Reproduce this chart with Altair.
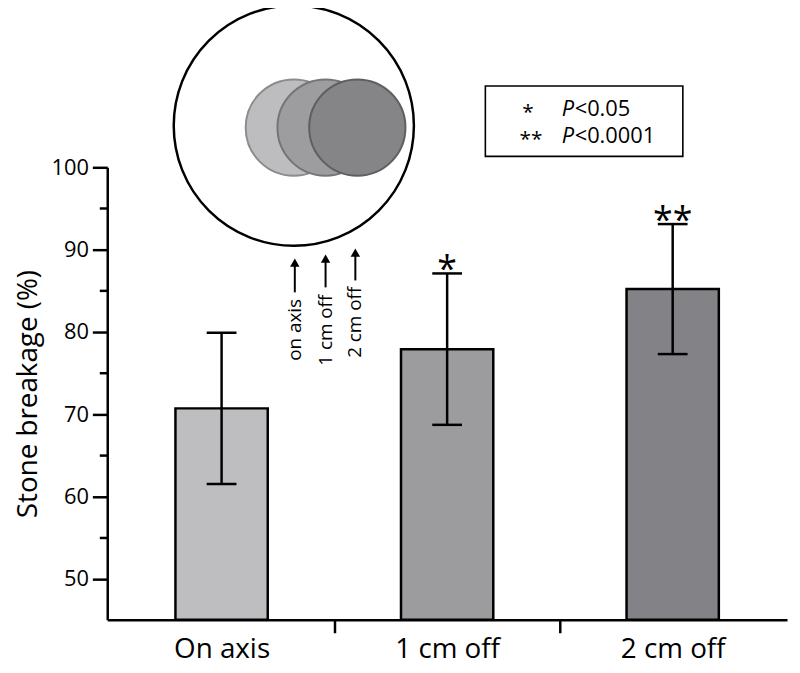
import altair as alt
import pandas as pd

# ---------------- data ----------------
categories = ["On axis", "1 cm off", "2 cm off"]
positions = [1, 2, 3]
breakage_mean = [70.7, 77.9, 85.2]
breakage_low = [61.5, 68.7, 77.3]
breakage_high = [79.9, 87.1, 93.1]
significance = ["", "*", "**"]
bar_colors = ["#bebec0", "#9c9c9f", "#838387"]
y_ticks = [50, 55, 60, 65, 70, 75, 80, 85, 90, 95, 100]

legend_symbols = ["*", "**"]
legend_values = ["<0.05", "<0.0001"]

inset_labels = ["on axis", "1 cm off", "2 cm off"]
inset_fill = ["#bdbdbf", "#9d9da0", "#858588"]
inset_stroke = ["#8c8c8f", "#757578", "#5f5f62"]

# ---------------- layout ----------------
FONT = "Open Sans"
W, H = 685, 456
OX, OY = 108, 166  # plot origin on the page


def px(x):
    return x - OX


def py(y):
    return y - OY


df = pd.DataFrame({
    "cat": categories, "pos": positions, "mean": breakage_mean,
    "lo": breakage_low, "hi": breakage_high, "sig": significance,
})
dummy = pd.DataFrame({"a": [0]})

xscale = alt.Scale(domain=[0.515, 3.485], nice=False, zero=False)
yscale = alt.Scale(domain=[45, 100], nice=False, zero=False)

label_expr = " : ".join(
    f"datum.value == {p} ? '{c}'" for p, c in zip(positions, categories)
) + " : ''"

x_axis = alt.Axis(
    values=[1, 1.5, 2, 2.5, 3],
    labelExpr=label_expr,
    labelFont=FONT, labelFontSize=28, labelColor="black",
    labelPadding=3, labelFlush=False, labelOverlap=False,
    tickSize=13, tickWidth=2.5, tickColor="black",
    tickOpacity={"condition": {"test": "datum.value == 1.5 || datum.value == 2.5", "value": 1}, "value": 0},
    domainColor="black", domainWidth=2.5, grid=False, title=None,
)

y_axis = alt.Axis(
    values=y_ticks,
    labelExpr="datum.value % 10 == 0 ? datum.label : ''",
    labelFont=FONT, labelFontSize=22, labelColor="black", labelPadding=4,
    labelOverlap=False, labelFlush=False,
    tickSize={"condition": {"test": "datum.value % 10 == 0", "value": 15}, "value": 8},
    tickWidth=2.5, tickColor="black",
    domainColor="black", domainWidth=2.5, grid=False,
    title="Stone breakage (%)", titleFont=FONT, titleFontSize=28,
    titleFontWeight="normal", titleColor="black", titlePadding=9,
)

base = alt.Chart(df)

bars = base.mark_bar(width=93, stroke="black", strokeWidth=2.5, opacity=1).encode(
    x=alt.X("pos:Q", scale=xscale, axis=x_axis),
    y=alt.Y("mean:Q", scale=yscale, axis=y_axis),
    y2=alt.datum(45),
    color=alt.Color("cat:N", scale=alt.Scale(domain=categories, range=bar_colors), legend=None),
)

err = base.mark_rule(color="black", strokeWidth=2.5).encode(
    x=alt.X("pos:Q"), y=alt.Y("lo:Q"), y2=alt.Y2("hi:Q"),
)
cap_hi = base.mark_tick(orient="horizontal", size=30, thickness=2.5, color="black", opacity=1).encode(
    x=alt.X("pos:Q"), y=alt.Y("hi:Q"),
)
cap_lo = base.mark_tick(orient="horizontal", size=30, thickness=2.5, color="black", opacity=1).encode(
    x=alt.X("pos:Q"), y=alt.Y("lo:Q"),
)
stars = base.mark_text(font=FONT, fontSize=36, color="black", baseline="alphabetic", dy=8).encode(
    x=alt.X("pos:Q"), y=alt.Y("hi:Q"), text="sig:N",
)

layers = [bars, err, cap_hi, cap_lo, stars]

# ---------------- inset: concentric target ----------------
big_cx, big_cy, big_d = 296, 124, 242
layers.append(
    alt.Chart(dummy).mark_point(shape="circle", size=big_d ** 2, filled=False,
                                stroke="black", strokeWidth=2.5, opacity=1)
    .encode(x=alt.value(px(big_cx)), y=alt.value(py(big_cy)))
)
small_cx = [296, 328, 360]
small_cy, small_d = 126, 97
for cx, fc, sc in zip(small_cx, inset_fill, inset_stroke):
    layers.append(
        alt.Chart(dummy).mark_point(shape="circle", size=small_d ** 2, filled=True,
                                    fill=fc, stroke=sc, strokeWidth=2, opacity=1, fillOpacity=1)
        .encode(x=alt.value(px(cx)), y=alt.value(py(small_cy)))
    )

# arrows and rotated labels
arrow_x = [297, 328, 358]
arrow_tip = [257, 253, 247]
arrow_end = [292, 287, 280]
label_bottom = [361, 366, 358]
for ax_, tip, end, lb, txt in zip(arrow_x, arrow_tip, arrow_end, label_bottom, inset_labels):
    layers.append(
        alt.Chart(dummy).mark_rule(color="black", strokeWidth=2)
        .encode(x=alt.value(px(ax_)), y=alt.value(py(tip + 6)), y2=alt.value(py(end)))
    )
    layers.append(
        alt.Chart(dummy).mark_point(shape="triangle-up", size=90, filled=True, color="black", opacity=1)
        .encode(x=alt.value(px(ax_)), y=alt.value(py(tip + 5)))
    )
    layers.append(
        alt.Chart(dummy).mark_text(text=txt, font=FONT, fontSize=19, angle=270,
                                   align="left", baseline="middle", color="black")
        .encode(x=alt.value(px(ax_)), y=alt.value(py(lb)))
    )

# ---------------- significance legend box ----------------
layers.append(
    alt.Chart(dummy).mark_rect(fill="white", stroke="black", strokeWidth=1.6)
    .encode(x=alt.value(px(489)), x2=alt.value(px(688)),
            y=alt.value(py(84)), y2=alt.value(py(155)))
)
sym_x = [532, 535]
line_base = [114, 142]
for sx, lb, sym, val in zip(sym_x, line_base, legend_symbols, legend_values):
    layers.append(
        alt.Chart(dummy).mark_text(text=sym, font=FONT, fontSize=21, align="center",
                                   baseline="alphabetic", color="black")
        .encode(x=alt.value(px(sx)), y=alt.value(py(lb + 3)))
    )
    layers.append(
        alt.Chart(dummy).mark_text(text="P", font=FONT, fontSize=22, fontStyle="italic",
                                   align="left", baseline="alphabetic", color="black")
        .encode(x=alt.value(px(566)), y=alt.value(py(lb)))
    )
    layers.append(
        alt.Chart(dummy).mark_text(text=val, font=FONT, fontSize=22, align="left",
                                   baseline="alphabetic", color="black")
        .encode(x=alt.value(px(579)), y=alt.value(py(lb)))
    )

chart = alt.layer(*layers).properties(
    width=W, height=H,
    autosize=alt.AutoSizeParams(type="none"),
    padding={"left": OX - 8, "top": OY - 8, "right": 5, "bottom": 45},
    background="white",
).configure_view(stroke=None)

chart.save("out.html", embed_options={"renderer": "svg", "actions": False})
